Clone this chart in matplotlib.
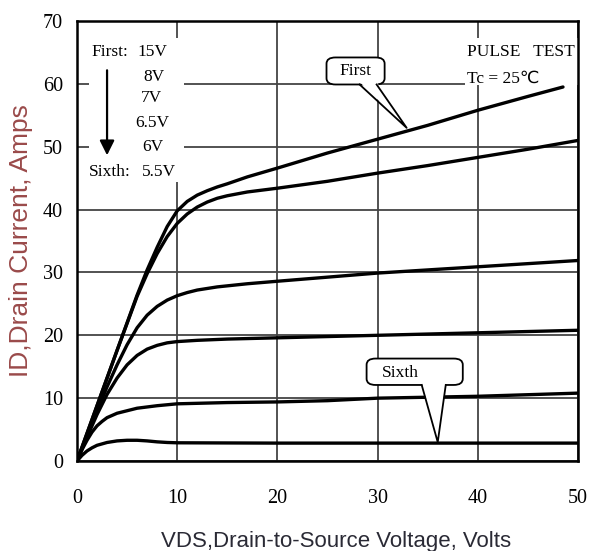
import matplotlib.pyplot as plt
from matplotlib.patches import FancyBboxPatch, Polygon, Rectangle

# VGS curves, first (15V) to sixth (5.5V)
vds_15 = [0, 2, 4, 6, 7, 8, 9, 10, 11, 12, 13, 14, 15, 17, 20, 25, 30, 35, 40, 45, 48.5]
id_15 = [0, 8.8, 17.6, 26.4, 30.4, 34.0, 37.3, 39.8, 41.3, 42.3, 43.0, 43.6, 44.1, 45.2, 46.6,
         49.0, 51.2, 53.4, 55.8, 58.0, 59.5]

vds_8 = [0, 2, 4, 6, 7, 8, 9, 10, 11, 12, 13, 14, 15, 17, 20, 25, 30, 35, 40, 45, 50]
id_8 = [0, 8.8, 17.6, 26.2, 29.8, 33.0, 35.7, 37.8, 39.3, 40.4, 41.2, 41.8, 42.2, 42.8, 43.4,
        44.5, 45.8, 47.0, 48.3, 49.6, 51.0]

vds_7 = [0, 2, 3, 4, 5, 6, 7, 8, 9, 10, 11, 12, 14, 17, 20, 30, 40, 50]
id_7 = [0, 8.0, 11.8, 15.3, 18.5, 21.2, 23.2, 24.6, 25.6, 26.3, 26.8, 27.2, 27.7, 28.2, 28.6,
        29.9, 30.9, 31.9]

vds_65 = [0, 1, 2, 3, 4, 5, 6, 7, 8, 9, 10, 12, 15, 20, 30, 40, 50]
id_65 = [0, 3.8, 7.4, 10.6, 13.2, 15.3, 16.8, 17.8, 18.4, 18.8, 19.0, 19.2, 19.4, 19.6, 20.0,
         20.4, 20.8]

vds_6 = [0, 0.5, 1, 1.5, 2, 2.5, 3, 4, 5, 6, 8, 10, 15, 20, 25, 30, 40, 50]
id_6 = [0, 1.8, 3.3, 4.6, 5.6, 6.3, 6.9, 7.6, 8.0, 8.4, 8.8, 9.1, 9.3, 9.4, 9.6, 10.0, 10.3, 10.8]

vds_55 = [0, 0.5, 1, 1.5, 2, 3, 4, 5, 6, 7, 8, 9, 10, 20, 30, 40, 50]
id_55 = [0, 0.9, 1.6, 2.1, 2.5, 2.95, 3.2, 3.3, 3.3, 3.2, 3.05, 2.95, 2.9, 2.85, 2.85, 2.85, 2.85]

curves = [(vds_15, id_15), (vds_8, id_8), (vds_7, id_7),
          (vds_65, id_65), (vds_6, id_6), (vds_55, id_55)]

vgs_labels = ['15V', '8V', '7V', '6.5V', '6V', '5.5V']
x_ticks = [0, 10, 20, 30, 40, 50]
y_ticks = [0, 10, 20, 30, 40, 50, 60, 70]

serif = 'Liberation Serif'
sans = 'Liberation Sans'

fig = plt.figure(figsize=(5.9, 5.51), dpi=100)
ax = fig.add_axes([0.1305, 0.1633, 0.8492, 0.7986])
ax.set_xlim(0, 50)
ax.set_ylim(0, 70)
ax.set_xticks(x_ticks)
ax.set_yticks(y_ticks)
ax.grid(True, color='#444444', lw=1.3)
ax.set_axisbelow(True)
ax.tick_params(length=0)
ax.tick_params(axis='x', pad=20)
ax.tick_params(axis='y', pad=10)
for lab in ax.get_xticklabels() + ax.get_yticklabels():
    lab.set_fontfamily(serif)
    lab.set_fontsize(14.5)
for s in ax.spines.values():
    s.set_linewidth(1.8)

for vx, iy in curves:
    ax.plot(vx, iy, color='black', lw=2.4, zorder=4, solid_capstyle='round')

# white patches behind the legend text and the test condition text
ax.add_patch(Rectangle((1.2, 44.4), 9.5, 22.9, fc='white', ec='none', zorder=2))
ax.add_patch(Rectangle((38.7, 59.8), 11.3, 7.5, fc='white', ec='none', zorder=2))

# legend text block
row_y = [65.1, 61.1, 57.8, 53.8, 50.0, 46.0]
right_x = [9.0, 8.7, 8.5, 9.2, 8.6, 9.9]
for lab, yy, xx in zip(vgs_labels, row_y, right_x):
    ax.text(xx, yy, lab, ha='right', va='center', family=serif, fontsize=12.5, zorder=6)
ax.text(1.4, row_y[0], 'First:', ha='left', va='center', family=serif, fontsize=12.5, zorder=6)
ax.text(1.2, row_y[-1], 'Sixth:', ha='left', va='center', family=serif, fontsize=12.5, zorder=6)
ax.annotate('', xy=(3.0, 48.2), xytext=(3.0, 62.6),
            arrowprops=dict(arrowstyle='-|>', lw=1.6, color='black', mutation_scale=22), zorder=6)

ax.text(38.9, 65.1, 'PULSE   TEST', ha='left', va='center', family=serif, fontsize=12.5, zorder=6)
ax.text(38.9, 60.8, 'Tc = 25℃', ha='left', va='center', family=['Liberation Serif', 'DejaVu Sans'],
        fontsize=12.5, zorder=6)


def callout(text, box, base, tip, text_xy):
    x0, y0, x1, y1 = box
    ax.add_patch(FancyBboxPatch((x0, y0), x1 - x0, y1 - y0,
                                boxstyle='round,pad=0,rounding_size=0.9',
                                mutation_aspect=1.1, fc='white', ec='black', lw=1.3, zorder=7))
    ax.add_patch(Polygon([(base[0], y0 + 0.4), tip, (base[1], y0 + 0.4)],
                         closed=True, fc='white', ec='none', zorder=8))
    ax.plot([base[0], tip[0], base[1]], [y0, tip[1], y0], color='black', lw=1.3, zorder=9)
    ax.text(*text_xy, text, ha='center', va='center', family=serif, fontsize=12.5, zorder=10)


callout('First', (24.9, 59.9, 30.7, 64.2), (28.2, 29.9), (32.9, 53.0), (27.8, 62.1))
callout('Sixth', (28.9, 12.1, 38.5, 16.3), (34.4, 36.8), (36.0, 3.0), (32.3, 14.0))

ax.set_xlabel('VDS,Drain-to-Source Voltage, Volts', family=sans, fontsize=16, color='#2a2a35')
ax.xaxis.set_label_coords(0.517, -0.16)
ax.set_ylabel('ID,Drain Current, Amps', family=sans, fontsize=19, color='#9a4a4a')
ax.yaxis.set_label_coords(-0.088, 0.5)

fig.savefig('out.png', dpi=100)
